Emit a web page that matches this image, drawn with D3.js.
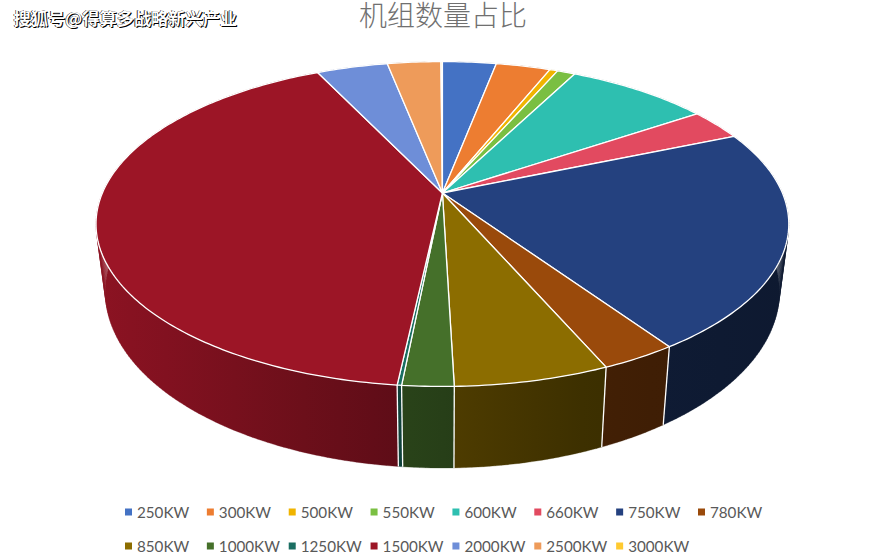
<!DOCTYPE html>
<html><head><meta charset="utf-8">
<script src="https://cdn.jsdelivr.net/npm/d3@7"></script>
<style>html,body{margin:0;padding:0;background:#fff}svg{display:block}</style>
</head><body><svg id="c" width="873" height="555"></svg>
<script>
const categories=["250KW","300KW","500KW","550KW","600KW","660KW","750KW","780KW","850KW","1000KW","1250KW","1500KW","2000KW","2500KW","3000KW"];
const shares=[3.02,3.05,0.45,1.0,8.03,3.1,21.85,3.0,6.05,2.0,0.17,41.2,4.0,3.0,0.08];
const colors=["#4472C4","#ED7D31","#F0B400","#7ABF42","#2EBFB0","#E24A60","#24417F","#9A4A0B","#8C6D00","#45702A","#1A6E62","#9C1526","#6E8ED8","#EE9B5A","#FFCA30"];
const titleText="机组数量占比";
const watermark="搜狐号@得算多战略新兴产业";

const svg=d3.select("#c");
const cx=442.4,cy=193,k=-0.191,b=156.5,a=340;
const top3=t=>{const X=Math.sin(t),Y=-Math.cos(t),w=1+k*Y;return [cx+a*X/w,cy+b*Y/w];};
const bottom3=t=>{const [u,v]=top3(t);return [cx+0.973*(u-cx),467.5+1.085*(v-386)];};
const arcs=d3.pie().sort(null).value(d=>d)(shares);
const line=d3.line();
const steps=(a0,a1)=>{const n=Math.max(2,Math.ceil((a1-a0)/0.015));return d3.range(n+1).map(i=>a0+(a1-a0)*i/n);};
const light=d3.scaleLinear().domain([96,400,600,790]).range([0.9,0.6,0.42,0.38]);

const defs=svg.append("defs");
arcs.forEach((d,i)=>{
  const g=defs.append("linearGradient").attr("id","w"+i).attr("gradientUnits","userSpaceOnUse").attr("x1",96).attr("x2",790).attr("y1",0).attr("y2",0);
  const c=d3.rgb(colors[i]);
  d3.range(0,1.0001,0.1).forEach(f=>{
    const s=light(96+f*694);
    g.append("stop").attr("offset",f).attr("stop-color",d3.rgb(c.r*s,c.g*s,c.b*s).formatHex());
  });
});
// outer wall: one quad per angular step so the side silhouette is filled between both rims
const wallPath=d=>{
  const ts=steps(d.startAngle,d.endAngle);
  return d3.pairs(ts).map(([p,q])=>line([top3(p),top3(q),bottom3(q),bottom3(p)])+"Z").join("");
};
svg.append("g").selectAll("path").data(arcs).join("path")
  .attr("d",wallPath).attr("fill",(d,i)=>`url(#w${i})`).attr("stroke",(d,i)=>`url(#w${i})`).attr("stroke-width",0.3);
svg.append("g").selectAll("path").data(arcs).join("path")
  .attr("d",d=>line([top3(d.endAngle),bottom3(d.endAngle)]))
  .attr("fill","none").attr("stroke","#fff").attr("stroke-width",1.3);
svg.append("g").selectAll("path").data(arcs).join("path")
  .attr("d",d=>line([[cx,cy]].concat(steps(d.startAngle,d.endAngle).map(top3)))+"Z")
  .attr("fill",(d,i)=>colors[i]).attr("stroke","#fff").attr("stroke-width",1.3).attr("stroke-linejoin","round");

svg.append("text").attr("x",443).attr("y",25.5).attr("text-anchor","middle")
  .style("font-family","'Noto Sans CJK SC'").style("font-weight",300).style("font-size","28px").attr("fill","#707070").text(titleText);
[[1,1,"#000"],[-0.6,0.3,"#000"],[0,0,"#fff"]].forEach(([dx,dy,f])=>{
  svg.append("text").attr("x",13.5+dx).attr("y",24.5+dy).attr("fill",f)
    .style("font-family","'Noto Sans CJK SC'").style("font-weight",700).style("font-size","17.2px").text(watermark);
});

const px=d3.scalePoint().domain(d3.range(8)).range([125,698]);
const py=d3.scalePoint().domain([0,1]).range([512,546]);
const lg=svg.append("g").selectAll("g").data(categories).join("g")
  .attr("transform",(d,i)=>`translate(${px(i%8)},${py(Math.floor(i/8))})`);
lg.append("rect").attr("x",0).attr("y",-3.5).attr("width",7).attr("height",7).attr("fill",(d,i)=>colors[i]);
lg.append("text").attr("x",12).attr("y",5.5).attr("fill","#595959").style("font-family","Lato").style("font-size","15.2px").text(d=>d);
</script></body></html>
